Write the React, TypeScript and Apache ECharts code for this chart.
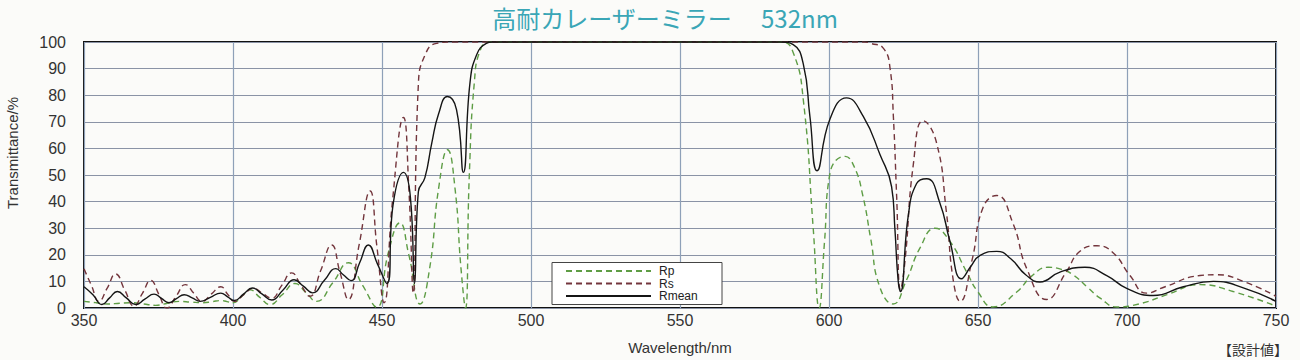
import React, { useEffect, useRef } from "react";
import * as echarts from "echarts";

const titleText = "高耐カレーザーミラー　 532nm";
const xTicks = [350, 750, 50];
const yTicks = [0, 100, 10];

const rpData: [number, number][] = [
  [350, 2.5], [354, 2], [358, 1.5], [362, 1.8], [366, 2], [370, 1.5], [374, 1], [378, 1.8],
  [382, 2.5], [386, 2.2], [390, 2], [393, 2.4], [396, 2.8], [398, 2.4], [400, 2],
  [403, 4.4], [405.7, 6.8], [409, 4], [412.4, 1.3], [416.5, 5], [420.8, 9.2], [424.5, 5.8],
  [428, 2.5], [433.5, 9.5], [438.7, 17], [443.5, 8.5], [448.2, 0.3],
  [452.1, 20.7], [456, 32], [459, 20], [462.8, 1.5], [466, 15], [469, 45], [472, 59.5],
  [474.5, 45], [476.5, 15], [478, 0], [479.3, 50], [481, 85], [483, 97], [486, 100],
  [584, 100], [588, 96], [591.4, 78], [594.7, 30], [596.7, 0], [598.5, 25], [600.3, 50.5],
  [605.4, 57], [608.5, 53], [611.4, 42], [614, 26], [617, 8], [621.5, 1.5], [626, 10.5],
  [630.5, 22.5], [635.6, 30], [640.6, 25], [646.2, 13.5], [650, 6], [655, 0.4], [663, 6],
  [668, 12], [673.5, 15.3], [678, 14.5], [682, 12.4], [687, 7.5], [691, 3.7], [696.6, 0.4],
  [704, 1.5], [713.4, 5], [724.5, 8.8], [735.6, 6.2], [750, 0.7],
];

const rsData: [number, number][] = [
  [350, 14.7], [352.5, 8.5], [355, 2.5], [357.8, 7.5], [360.6, 12.8], [363.7, 6.7],
  [366.8, 0.7], [369.6, 5.5], [372.4, 10.4], [375.1, 5.2], [377.8, 0], [380.9, 4.4],
  [384, 8.8], [386.8, 5.6], [389.6, 2.5], [392.7, 5.2], [395.9, 8], [398.2, 5.2],
  [400.5, 2.5], [403.6, 5], [406.8, 7.4], [409.9, 5.5], [413, 3.7], [416.3, 8.4],
  [419.7, 13.2], [422.7, 8.8], [425.8, 4.4], [429.4, 14], [433.1, 23.7], [435.9, 13.4],
  [438.7, 3.2], [442.3, 23.6], [446, 44], [448.3, 23], [450.7, 2],
  [453.5, 40], [457.2, 71.6], [459, 45], [460.5, 5.6], [462.2, 84], [464.4, 95],
  [468.3, 99.5], [474, 100], [612, 100], [614, 99.5], [618.2, 97.7], [620.5, 90],
  [621.6, 72], [622.7, 42], [624, 6.8], [625.5, 17.7], [628.3, 54], [631.6, 70.4],
  [636, 62.5], [639.4, 36], [641.7, 10.4], [644, 2.5], [648, 18], [651.7, 37.8],
  [656.3, 42.3], [661.8, 31.6], [666.4, 14.7], [673, 3.2], [679.6, 13.5], [684.2, 21.3],
  [689.9, 23.4], [695.4, 20.7], [701, 12.2], [706.6, 5.6], [712.8, 8], [724.5, 12.2],
  [730, 12.5], [739.5, 9.8], [750, 4.4],
];

const rmeanData: [number, number][] = [
  [350, 8], [353, 5], [356, 1.3], [358.6, 3.8], [361.2, 6.2], [364.2, 3.8], [367.3, 1.3],
  [370.4, 3.3], [373.5, 5.2], [376, 3.6], [378.5, 2], [381, 3.5], [383.6, 5], [386.3, 3.8],
  [389, 2.5], [392.4, 4], [395.9, 5.6], [398.2, 4.2], [400.5, 2.8], [403.5, 5.2],
  [406.5, 7.5], [409.7, 5.3], [413, 3], [416.8, 6.8], [420.5, 10.6], [423.6, 8.2],
  [426.7, 5.7], [430.6, 10.3], [434.5, 14.8], [437, 12.5], [439.6, 10.3], [442.5, 17],
  [445.4, 23.7], [448.5, 16.5], [451.6, 9.2], [453.8, 39.5],
  [457.2, 51], [459.5, 42], [460.9, 9.2], [462.2, 43.7], [464.4, 49], [466.7, 62], [469, 73],
  [471.9, 79.5], [475, 74.6], [477.3, 51], [479.5, 84.4], [481.8, 95.3], [485, 99.5],
  [487, 100], [583.6, 100], [588, 99], [591.4, 91.6], [593.6, 72], [596, 51.6], [600.3, 71],
  [605.9, 79], [611.5, 72], [617.1, 57.7], [621, 45.6], [622.1, 30], [623.2, 10.4],
  [624, 6.2], [626.6, 34.7], [629.4, 46.8], [632.8, 48.6], [637.2, 39.5], [640.6, 25],
  [644.5, 11], [647.5, 15.5], [650.7, 19.8], [656.3, 21.3], [661, 18.5], [666, 12.5],
  [670.8, 9.8], [677.5, 13.5], [685.9, 15.3], [693.2, 12.2], [699.9, 7.4], [708.8, 4.7],
  [718.9, 8], [729, 10], [739.5, 7.4], [750, 2.5],
];

const seriesNames = ["Rp", "Rs", "Rmean"];

export default function App() {
  const ref = useRef<HTMLDivElement>(null);
  useEffect(() => {
    document.body.style.margin = "0";
    const chart = echarts.init(ref.current!, null, { renderer: "svg" });
    const font = "Liberation Sans, Arial, sans-serif";
    const sm = 0.5;
    chart.setOption({
      animation: false,
      backgroundColor: "#fbfbf9",
      grid: { left: 84, right: 24, top: 42, bottom: 43, show: true, borderColor: "#111", borderWidth: 2 },
      xAxis: {
        type: "value",
        min: xTicks[0], max: xTicks[1], interval: xTicks[2],
        name: "Wavelength/nm", nameLocation: "middle", nameGap: 32,
        nameTextStyle: { fontSize: 15, color: "#333", fontFamily: font },
        axisLine: { show: false }, axisTick: { show: false },
        axisLabel: { fontSize: 16, color: "#333", fontFamily: font, margin: 4 },
        splitLine: { lineStyle: { color: "#8ea0b8", width: 1.2 } },
      },
      yAxis: {
        type: "value",
        min: yTicks[0], max: yTicks[1], interval: yTicks[2],
        axisLine: { show: false }, axisTick: { show: false },
        axisLabel: { fontSize: 16, color: "#333", fontFamily: font, margin: 18 },
        splitLine: { lineStyle: { color: "#8a93a6", width: 1.2 } },
      },
      legend: {
        data: seriesNames,
        orient: "vertical", left: 560, top: 263, padding: [2, 5],
        itemWidth: 85, itemHeight: 10, itemGap: 0.5,
        itemStyle: { opacity: 0, borderWidth: 0 },
        textStyle: { fontSize: 12, color: "#222", fontFamily: font, padding: [0, 0, 0, 3] },
        z: 5,
      },
      graphic: [
        { type: "text", x: 665, y: 17, style: { text: titleText, fill: "#3aa6b6", font: "24px 'Noto Sans CJK JP', sans-serif", textAlign: "center", textVerticalAlign: "middle" } },
        { type: "text", x: 12, y: 153, rotation: Math.PI / 2, style: { text: "Transmittance/%", fill: "#333", font: `15px ${font}`, textAlign: "center", textVerticalAlign: "middle" } },
        { type: "text", x: 1288, y: 349, style: { text: "【設計値】", fill: "#333", font: "14px 'Noto Sans CJK JP', sans-serif", textAlign: "right", textVerticalAlign: "middle" } },
        { type: "rect", z: 3, shape: { x: 552, y: 262.5, width: 170, height: 42 }, style: { fill: "#ffffff", stroke: "#444", lineWidth: 1 } },
      ],
      series: [
        { name: "Rp", type: "line", data: rpData, symbol: "none", smooth: sm, z: 2,
          lineStyle: { color: "#5e9d45", width: 1.4, type: [6, 4] }, itemStyle: { color: "#5e9d45" } },
        { name: "Rs", type: "line", data: rsData, symbol: "none", smooth: sm, z: 2,
          lineStyle: { color: "#73353c", width: 1.4, type: [6, 4] }, itemStyle: { color: "#73353c" } },
        { name: "Rmean", type: "line", data: rmeanData, symbol: "none", smooth: sm, z: 2,
          lineStyle: { color: "#151515", width: 1.4 }, itemStyle: { color: "#151515" } },
      ],
    });
    return () => chart.dispose();
  }, []);
  return <div ref={ref} style={{ width: 1300, height: 360 }} />;
}
